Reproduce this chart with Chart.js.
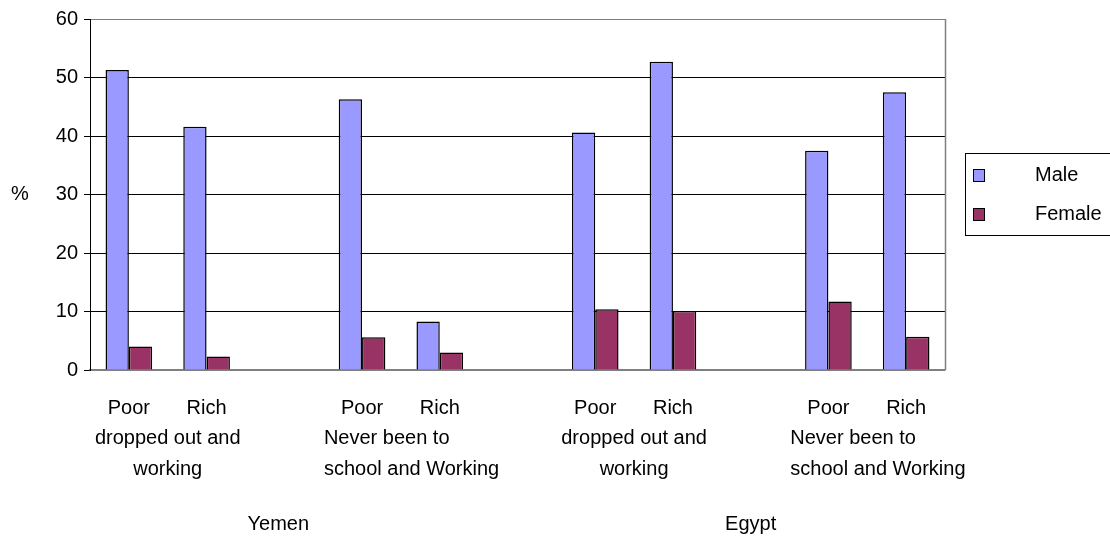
<!DOCTYPE html>
<html>
<head>
<meta charset="utf-8">
<script src="https://cdn.jsdelivr.net/npm/chart.js@4"></script>
<style>
  html, body { margin: 0; padding: 0; background: #fff; }
  #wrap { width: 1110px; height: 536px; }
</style>
</head>
<body>
<div id="wrap"><canvas id="graphic"></canvas></div>
<script>
// categories (empty slots are the gaps between groups)
const labels = ['Poor', 'Rich', '', 'Poor', 'Rich', '', 'Poor', 'Rich', '', 'Poor', 'Rich'];
const maleData = [51.3, 41.6, null, 46.3, 8.3, null, 40.6, 52.7, null, 37.5, 47.5];
const femaleData = [4.0, 2.3, null, 5.6, 3.0, null, 10.4, 10.1, null, 11.7, 5.7];
const yTicks = [0, 10, 20, 30, 40, 50, 60];

// second row labels: [first index, second index, lines, align]
const groupLabels = [
    [0, 1, ['dropped out and', 'working'], 'center'],
    [3, 4, ['Never been to', 'school and Working'], 'left'],
    [6, 7, ['dropped out and', 'working'], 'center'],
    [9, 10, ['Never been to', 'school and Working'], 'left']
];
const countries = [[0, 4, 'Yemen'], [6, 10, 'Egypt']];

const FONT = '"Liberation Sans", Arial, sans-serif';
const SIZE = 20;

const extras = {
    id: 'extras',
    afterDraw(chart) {
        const ctx = chart.ctx;
        const x = chart.scales.x;
        const area = chart.chartArea;
        ctx.save();

        // right border of plot area
        ctx.strokeStyle = '#808080';
        ctx.lineWidth = 1.5;
        ctx.beginPath();
        ctx.moveTo(area.right + 0.5, area.top);
        ctx.lineTo(area.right + 0.5, area.bottom);
        ctx.stroke();

        ctx.fillStyle = '#000';
        ctx.font = `${SIZE}px ${FONT}`;
        ctx.textBaseline = 'middle';

        // y title
        ctx.textAlign = 'center';
        ctx.fillText('%', 20, (area.top + area.bottom) / 2);

        // group labels under Poor / Rich
        groupLabels.forEach(([a, b, lines, align]) => {
            const mid = (x.getPixelForValue(a) + x.getPixelForValue(b)) / 2;
            lines.forEach((t, i) => {
                const y = 438 + i * 31;
                if (align === 'left') {
                    ctx.textAlign = 'left';
                    ctx.fillText(t, mid - 77, y);
                } else {
                    ctx.textAlign = 'center';
                    ctx.fillText(t, mid, y);
                }
            });
        });

        // country labels
        ctx.textAlign = 'center';
        countries.forEach(([a, b, t]) => {
            const mid = (x.getPixelForValue(a) + x.getPixelForValue(b)) / 2;
            ctx.fillText(t, mid - (t === 'Yemen' ? 6 : 0), 524);
        });

        // legend box
        ctx.strokeStyle = '#000';
        ctx.lineWidth = 1;
        ctx.strokeRect(965.5, 153.5, 160, 82);
        chart.data.datasets.forEach((ds, i) => {
            const cy = 175 + i * 39;
            ctx.fillStyle = ds.backgroundColor;
            ctx.fillRect(973, cy - 6, 12, 13);
            ctx.strokeStyle = '#000';
            ctx.strokeRect(973.5, cy - 5.5, 11, 12);
            ctx.fillStyle = '#000';
            ctx.textAlign = 'left';
            ctx.fillText(ds.label, 1035, cy);
        });

        ctx.restore();
    }
};

new Chart(document.getElementById('graphic').getContext('2d'), {
    type: 'bar',
    data: {
        labels,
        datasets: [
            {
                label: 'Male',
                data: maleData,
                backgroundColor: '#9999FF',
                borderColor: '#000',
                borderWidth: 1.5,
                categoryPercentage: 0.6,
                barPercentage: 1.0
            },
            {
                label: 'Female',
                data: femaleData,
                backgroundColor: '#993366',
                borderColor: '#000',
                borderWidth: 1.5,
                categoryPercentage: 0.6,
                barPercentage: 1.0
            }
        ]
    },
    options: {
        responsive: true,
        maintainAspectRatio: false,
        animation: false,
        layout: { padding: { top: 19, right: 165, left: 0, bottom: 0 } },
        plugins: {
            legend: { display: false },
            tooltip: { enabled: false }
        },
        scales: {
            x: {
                grid: { display: false, drawTicks: false },
                border: { color: '#808080', width: 1.5 },
                ticks: {
                    color: '#000',
                    font: { family: FONT, size: SIZE },
                    padding: 26,
                    maxRotation: 0,
                    autoSkip: false
                },
                afterFit: s => { s.height = 166; }
            },
            y: {
                min: 0,
                max: 60,
                afterBuildTicks: s => { s.ticks = yTicks.map(v => ({ value: v })); },
                grid: {
                    color: c => (c.tick && (c.tick.value === 60 || c.tick.value === 0)) ? '#808080' : '#000',
                    tickColor: '#000',
                    tickLength: 6,
                    lineWidth: 1
                },
                border: { color: '#000', width: 1 },
                ticks: {
                    color: '#000',
                    font: { family: FONT, size: SIZE },
                    padding: 6
                },
                afterFit: s => { s.width = 90; }
            }
        }
    },
    plugins: [extras]
});
</script>
</body>
</html>
